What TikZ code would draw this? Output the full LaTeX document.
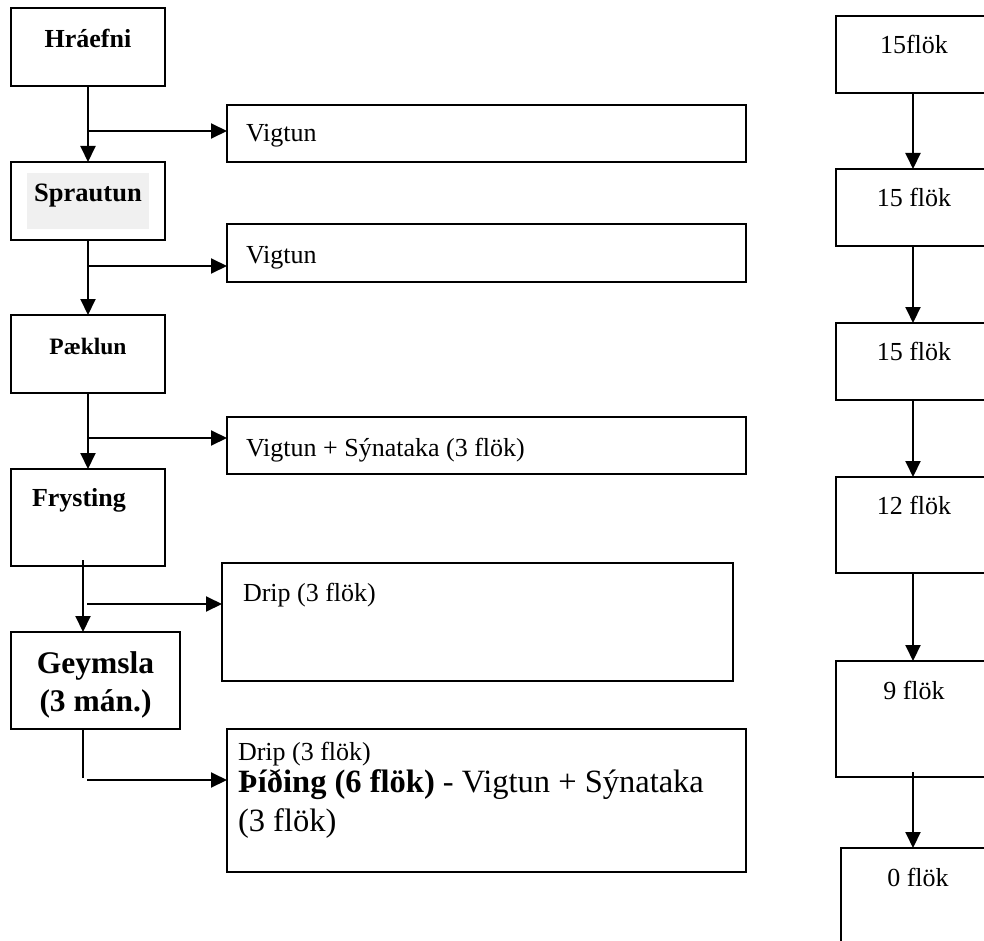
\documentclass[tikz,border=0pt]{standalone}
\usepackage{fontspec}
\setmainfont{Liberation Serif}
\usetikzlibrary{arrows.meta}
\definecolor{spbg}{HTML}{F0F0F0}
\tikzset{
  box/.style={draw, line width=2pt, inner sep=0pt, outer sep=0pt, fill=none},
  lbl/.style={inner sep=0pt, outer sep=0pt},
  conn/.style={line width=2pt},
  arr/.style={conn, -{Triangle[length=16pt,width=15pt]}},
}
\newcommand{\fsz}[1]{\fontsize{#1}{#1}\selectfont}
\begin{document}
\begin{tikzpicture}[x=1pt,y=-1pt]
\useasboundingbox (0,0) rectangle (984,941);
\clip (0,0) rectangle (984,941);
\fill[white] (0,0) rectangle (984,941);

% left column boxes
\node[box, minimum width=154, minimum height=78] (hr) at (88,47) {};
\node[box, minimum width=154, minimum height=78] (sp) at (88,201) {};
\node[box, minimum width=154, minimum height=78] (pk) at (88,354) {};
\node[box, minimum width=154, minimum height=97] (fr) at (88,517.5) {};
\node[box, minimum width=169, minimum height=97] (ge) at (95.5,680.5) {};

% middle boxes
\node[box, minimum width=519, minimum height=57] (v1) at (486.5,133.5) {};
\node[box, minimum width=519, minimum height=58] (v2) at (486.5,253) {};
\node[box, minimum width=519, minimum height=57] (v3) at (486.5,445.5) {};
\node[box, minimum width=511, minimum height=118] (dr) at (477.5,622) {};
\node[box, minimum width=519, minimum height=143] (la) at (486.5,800.5) {};

% right column boxes
\node[box, minimum width=156, minimum height=77] (r1) at (914,54.5) {};
\node[box, minimum width=156, minimum height=77] (r2) at (914,207.5) {};
\node[box, minimum width=156, minimum height=77] (r3) at (914,361.5) {};
\node[box, minimum width=156, minimum height=96] (r4) at (914,525) {};
\node[box, minimum width=156, minimum height=116] (r5) at (914,719) {};
\node[box, minimum width=156, minimum height=112] (r6) at (919,904) {};

% texts left column
\node[lbl, anchor=base, font=\bfseries\fsz{26}] (thr) at (88,48) {Hráefni};
\fill[spbg] (27,173) rectangle (149,229);
\node[lbl, anchor=base, font=\bfseries\fsz{26.5}] (tsp) at (88,202) {Sprautun};
\node[lbl, anchor=base, font=\bfseries\fsz{23.5}] (tpk) at (88,354) {Pæklun};
\node[lbl, anchor=base west, font=\bfseries\fsz{26}] (tfr) at (32,506) {Frysting};
\node[lbl, anchor=base, font=\bfseries\fsz{31.5}] (tge1) at (95.5,673) {Geymsla};
\node[lbl, anchor=base, font=\bfseries\fsz{31.5}] (tge2) at (95.5,711) {(3 mán.)};

% texts middle
\node[lbl, anchor=base west, font=\fsz{26}] (tv1) at (246,142) {Vigtun};
\node[lbl, anchor=base west, font=\fsz{26}] (tv2) at (246,263) {Vigtun};
\node[lbl, anchor=base west, font=\fsz{26}] (tv3) at (246,456) {Vigtun + Sýnataka (3 flök)};
\node[lbl, anchor=base west, font=\fsz{26}] (tdr) at (243,601) {Drip (3 flök)};
\node[lbl, anchor=base west, font=\fsz{26}] (tla1) at (238,760) {Drip (3 flök)};
\node[lbl, anchor=base west, font=\fsz{32.5}] (tla2) at (238,792) {\textbf{Þíðing (6 flök)} - Vigtun + Sýnataka};
\node[lbl, anchor=base west, font=\fsz{32.5}] (tla3) at (238,831) {(3 flök)};

% texts right column
\node[lbl, anchor=base, font=\fsz{26}] (tr1) at (914,54) {15flök};
\node[lbl, anchor=base, font=\fsz{26}] (tr2) at (914,207) {15 flök};
\node[lbl, anchor=base, font=\fsz{26}] (tr3) at (914,360) {15 flök};
\node[lbl, anchor=base, font=\fsz{26}] (tr4) at (914,514) {12 flök};
\node[lbl, anchor=base, font=\fsz{26}] (tr5) at (914,699) {9 flök};
\node[lbl, anchor=base, font=\fsz{26}] (tr6) at (918,886) {0 flök};

% left connectors
\draw[arr] (hr.south) -- (sp.north);
\coordinate (b1) at (88,131);
\draw[arr] (b1) -- (b1 -| v1.west);
\draw[arr] (sp.south) -- (pk.north);
\coordinate (b2) at (88,266);
\draw[arr] (b2) -- (b2 -| v2.west);
\draw[arr] (pk.south) -- (fr.north);
\coordinate (b3) at (88,438);
\draw[arr] (b3) -- (b3 -| v3.west);
\coordinate (f1) at (83,560);
\draw[arr] (f1) -- (f1 |- ge.north);
\coordinate (f2) at (87,604);
\draw[arr] (f2) -- (f2 -| dr.west);
\coordinate (g1) at (83,778);
\draw[conn] (g1 |- ge.south) -- (g1);
\coordinate (g2) at (87,780);
\draw[arr] (g2) -- (g2 -| la.west);

% right connectors
\coordinate (rx) at (913,0);
\draw[arr] (rx |- r1.south) -- (rx |- r2.north);
\draw[arr] (rx |- r2.south) -- (rx |- r3.north);
\draw[arr] (rx |- r3.south) -- (rx |- r4.north);
\draw[arr] (rx |- r4.south) -- (rx |- r5.north);
\coordinate (r56) at (913,772);
\draw[arr] (r56) -- (r56 |- r6.north);
\end{tikzpicture}
\end{document}
